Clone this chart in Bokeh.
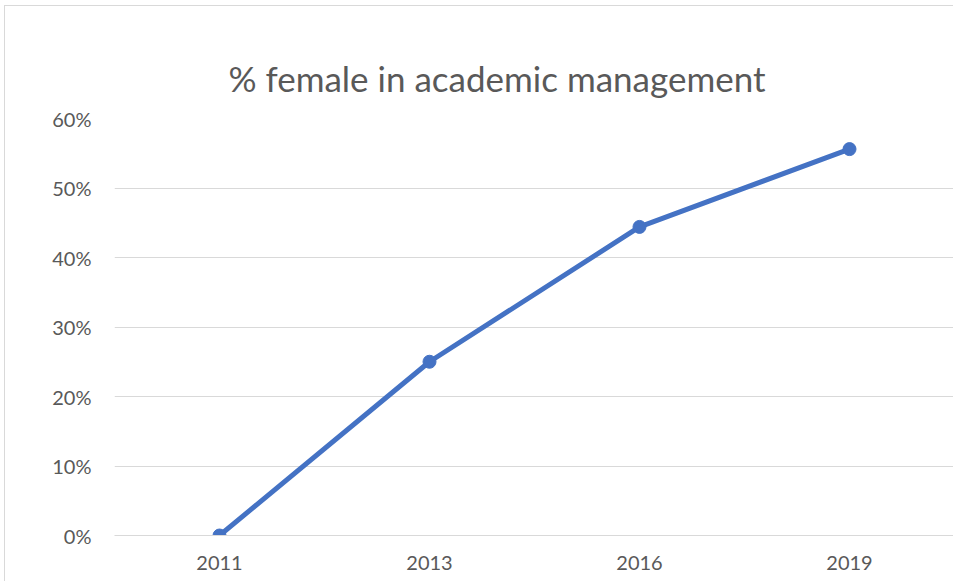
from bokeh.plotting import figure
from bokeh.models import ColumnDataSource, NumeralTickFormatter, FixedTicker, Title
from bokeh.embed import file_html
from bokeh.resources import INLINE

years = ["2011", "2013", "2016", "2019"]
pct_female = [0.0, 0.25, 0.444, 0.556]
y_ticks = [0.0, 0.1, 0.2, 0.3, 0.4, 0.5, 0.6]

src = ColumnDataSource(dict(year=years, pct=pct_female))

p = figure(x_range=years, y_range=(0, 0.6), width=949, height=576,
           output_backend="svg", toolbar_location=None,
           min_border_left=109, min_border_right=0, min_border_top=112,
           min_border_bottom=47, background_fill_color="white",
           border_fill_color="white", outline_line_color=None,
           styles={"margin-left": "4px", "margin-top": "5px",
                   "border-left": "1px solid #d9d9d9",
                   "border-top": "1px solid #d9d9d9"})

p.title = Title(text="% female in academic management", align="left",
                text_font="Lato", text_font_size="35px", text_color="#595959",
                text_font_style="normal", offset=114, standoff=40)

p.line("year", "pct", source=src, line_color="#4472C4", line_width=5)
p.scatter("year", "pct", source=src, size=13, fill_color="#4472C4",
          line_color="#4472C4")

p.yaxis.ticker = FixedTicker(ticks=y_ticks)
p.yaxis.formatter = NumeralTickFormatter(format="0%")
p.yaxis.axis_line_color = None
p.yaxis.major_tick_line_color = None
p.yaxis.minor_tick_line_color = None
p.yaxis.major_label_standoff = 17
p.yaxis.major_label_text_font = "Lato"
p.yaxis.major_label_text_font_size = "20px"
p.yaxis.major_label_text_color = "#595959"

p.xaxis.axis_line_color = "#d9d9d9"
p.xaxis.axis_line_width = 1
p.xaxis.major_tick_line_color = None
p.xaxis.minor_tick_line_color = None
p.xaxis.major_label_standoff = 14
p.xaxis.major_label_text_font = "Lato"
p.xaxis.major_label_text_font_size = "20px"
p.xaxis.major_label_text_color = "#595959"

p.xgrid.grid_line_color = None
p.ygrid.grid_line_color = "#d9d9d9"
p.ygrid.grid_line_width = 1

open("out.html", "w").write(file_html(p, INLINE))
